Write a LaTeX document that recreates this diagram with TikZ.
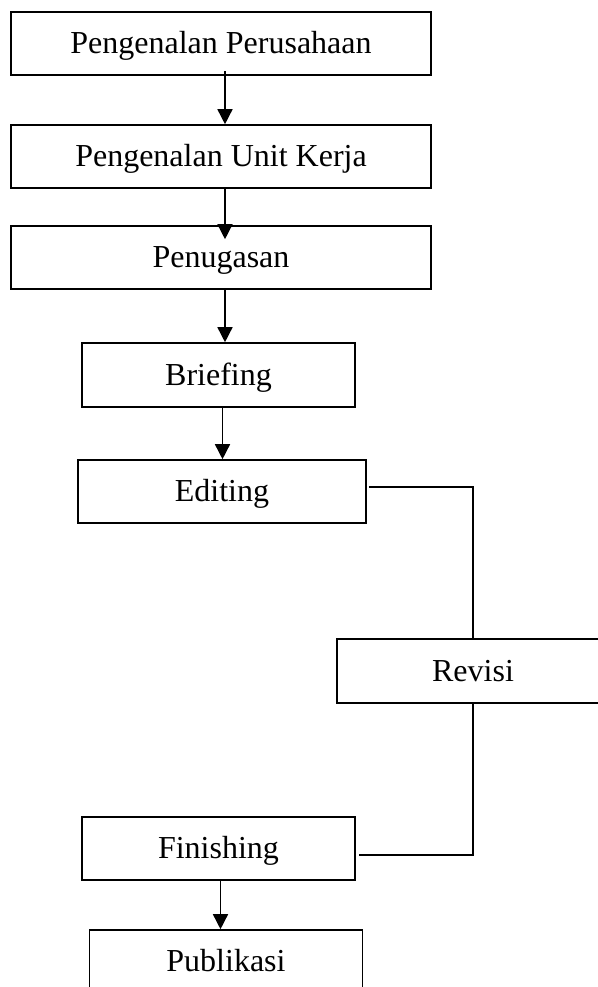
\documentclass[tikz,border=0pt]{standalone}
\usepackage{fontspec}
\setmainfont{Liberation Serif}
\usetikzlibrary{arrows.meta,calc}
\begin{document}
\begin{tikzpicture}[x=0.5pt,y=-0.5pt,
  box/.style={draw,line width=0.8pt,inner sep=0pt,
    font=\fontsize{16}{19}\selectfont,text height=10.3pt,text depth=0pt},
  conn/.style={line width=0.75pt},
  arr/.style={conn,-{Triangle[width=7.5pt,length=7.5pt]}}]
\useasboundingbox (0,0) rectangle (598,987);
\clip (0,0) rectangle (598,987);
\fill[white] (0,0) rectangle (598,987);
\node[box,minimum width=209.75pt,minimum height=31.75pt] (b1) at (221,43.5) {Pengenalan Perusahaan};
\node[box,minimum width=209.75pt,minimum height=31.5pt] (b2) at (221,156.5) {Pengenalan Unit Kerja};
\node[box,minimum width=209.75pt,minimum height=31.5pt] (b3) at (221,257.5) {Penugasan};
\node[box,minimum width=136.5pt,minimum height=32pt] (b4) at (218.5,375) {Briefing};
\node[box,minimum width=144pt,minimum height=31.5pt] (b5) at (222,491.5) {Editing};
\node[box,minimum width=136pt,minimum height=32pt] (b6) at (473,671) {Revisi};
\node[box,minimum width=136.5pt,minimum height=31.5pt] (b7) at (218.5,848.5) {Finishing};
\node[box,minimum width=136.5pt,minimum height=31.5pt] (b8) at (226,961.5) {Publikasi};
\draw[arr] ($(b1.south)+(4,-5)$) -- ($(b2.north)+(4,0)$);
\draw[arr] ($(b2.south)+(4,0)$) -- ($(b3.north)+(4,14)$);
\draw[arr] ($(b3.south)+(4,0)$) -- ($(b4.north)+(6.5,0)$);
\draw[arr] ($(b4.south)+(4,0)$) -- ($(b5.north)+(0.5,0)$);
\draw[conn] ($(b5.east)+(2,-4.5)$) -| (b6.north);
\draw[conn] (b6.south) |- ($(b7.east)+(3,6.5)$);
\draw[arr] ($(b7.south)+(2,0)$) -- ($(b8.north)+(-5.5,0)$);
\end{tikzpicture}
\end{document}
